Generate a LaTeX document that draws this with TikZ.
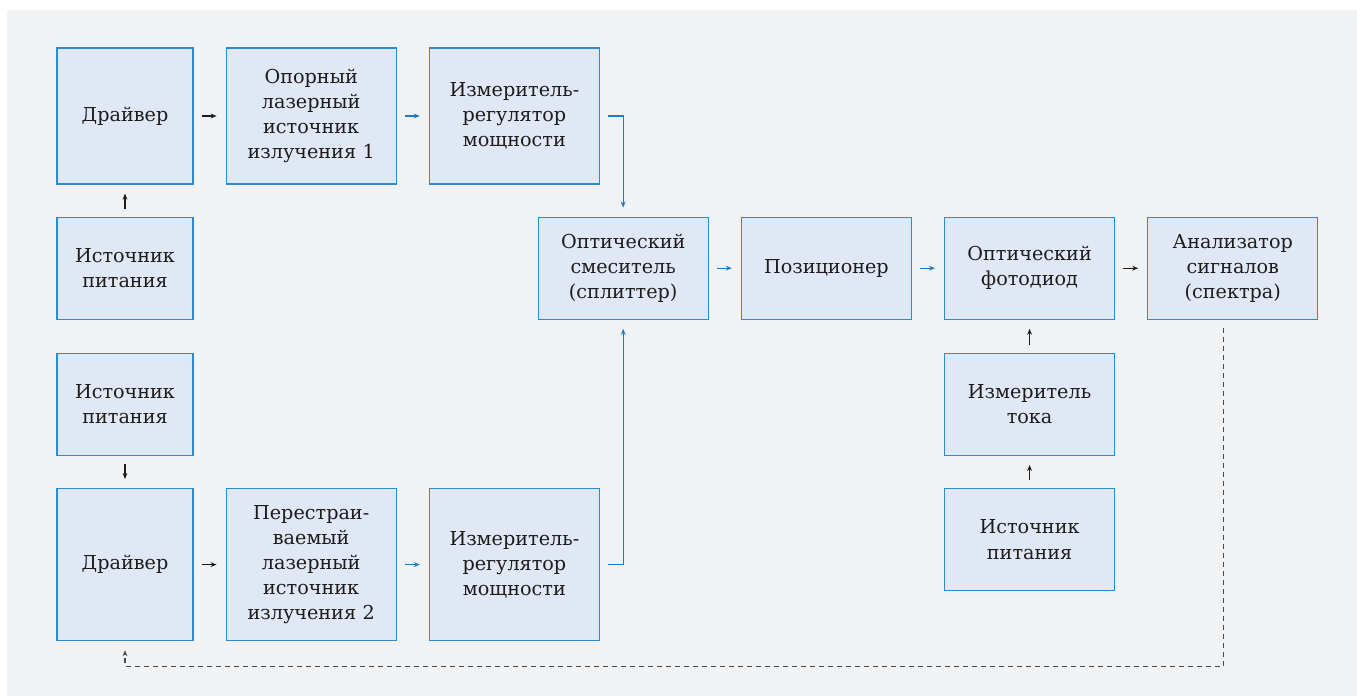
\documentclass[tikz,border=0pt]{standalone}
\usepackage{fontspec}
\setmainfont{DejaVu Serif}
\usetikzlibrary{positioning,arrows.meta}

\definecolor{pagegray}{HTML}{F1F2F4}
\definecolor{boxfill}{HTML}{E1E8F5}
\definecolor{boxblue}{HTML}{2E8BCF}
\definecolor{beamblue}{HTML}{1A7DC4}
\definecolor{inkgray}{HTML}{1E1B1C}
\definecolor{fbgray}{HTML}{4A4A4A}

\begin{document}
\begin{tikzpicture}[node distance=16pt, font=\fontsize{9.6}{12.6}\selectfont,
  block/.style={draw=boxblue, fill=boxfill, line width=0.6pt, align=center, inner sep=0pt, text=inkgray},
  narrow/.style={block, minimum width=68pt, text width=66pt},
  wide/.style={block, minimum width=85pt, text width=83pt},
  >={Stealth[length=3pt,width=2.4pt]},
  link/.style={->, line width=0.55pt, shorten <=4pt, shorten >=4.5pt, draw=inkgray},
  beam/.style={link, draw=beamblue},
  fb/.style={link, dash pattern=on 2.5pt off 2pt, draw=fbgray}]

  \useasboundingbox (0,0) rectangle (678.5pt,-348pt);
  \fill[pagegray] (3.5pt,-5pt) rectangle (678.5pt,-348pt);

  % Nodes
  \node[narrow, minimum height=68pt] (drvA) at (62.5pt,-58pt) {Драйвер};
  \node[wide, minimum height=68pt, right=of drvA] (refL) {Опорный\\лазерный\\источник\\излучения 1};
  \node[wide, minimum height=68pt, right=of refL] (pwrA) {Измеритель-\\регулятор\\мощности};
  \node[narrow, minimum height=51pt, below=of drvA] (srcA) {Источник\\питания};

  % Middle row
  \node[wide, minimum height=51pt, right=172pt of srcA] (mix) {Оптический\\смеситель\\(сплиттер)};
  \node[wide, minimum height=51pt, right=of mix] (pos) {Позиционер};
  \node[wide, minimum height=51pt, right=of pos] (pd) {Оптический\\фотодиод};
  \node[wide, minimum height=51pt, right=of pd] (ana) {Анализатор\\сигналов\\(спектра)};
  \node[wide, minimum height=51pt, below=16.5pt of pd] (meas) {Измеритель\\тока};
  \node[wide, minimum height=51pt, below=of meas] (srcC) {Источник\\питания};

  % Lower branch
  \node[narrow, minimum height=51pt, below=16.5pt of srcA] (srcB) {Источник\\питания};
  \node[narrow, minimum height=76pt, below=of srcB] (drvB) {Драйвер};
  \node[wide, minimum height=76pt, right=of drvB] (tunL) {Перестраи-\\ваемый\\лазерный\\источник\\излучения 2};
  \node[wide, minimum height=76pt, right=of tunL] (pwrB) {Измеритель-\\регулятор\\мощности};

  % Arrows
  \draw[link] (srcA) -- (drvA);
  \draw[link] (drvA) -- (refL);
  \draw[beam] (refL) -- (pwrA);
  \draw[beam] (pwrA.east) -| (mix.north);
  \draw[beam] (pwrB.east) -| (mix.south);
  \draw[beam] (mix) -- (pos);
  \draw[beam] (pos) -- (pd);
  \draw[link] (pd) -- (ana);
  \draw[link] (meas) -- (pd);
  \draw[link] (srcC) -- (meas);
  \draw[link] (srcB) -- (drvB);
  \draw[link] (drvB) -- (tunL);
  \draw[beam] (tunL) -- (pwrB);

  % Feedback
  \coordinate[xshift=-4.5pt] (fbTop) at (ana.south);
  \coordinate[below=12.5pt of drvB.south] (fbTurn);
  \draw[fb] (fbTop) |- (fbTurn) -- (drvB.south);
\end{tikzpicture}
\end{document}
